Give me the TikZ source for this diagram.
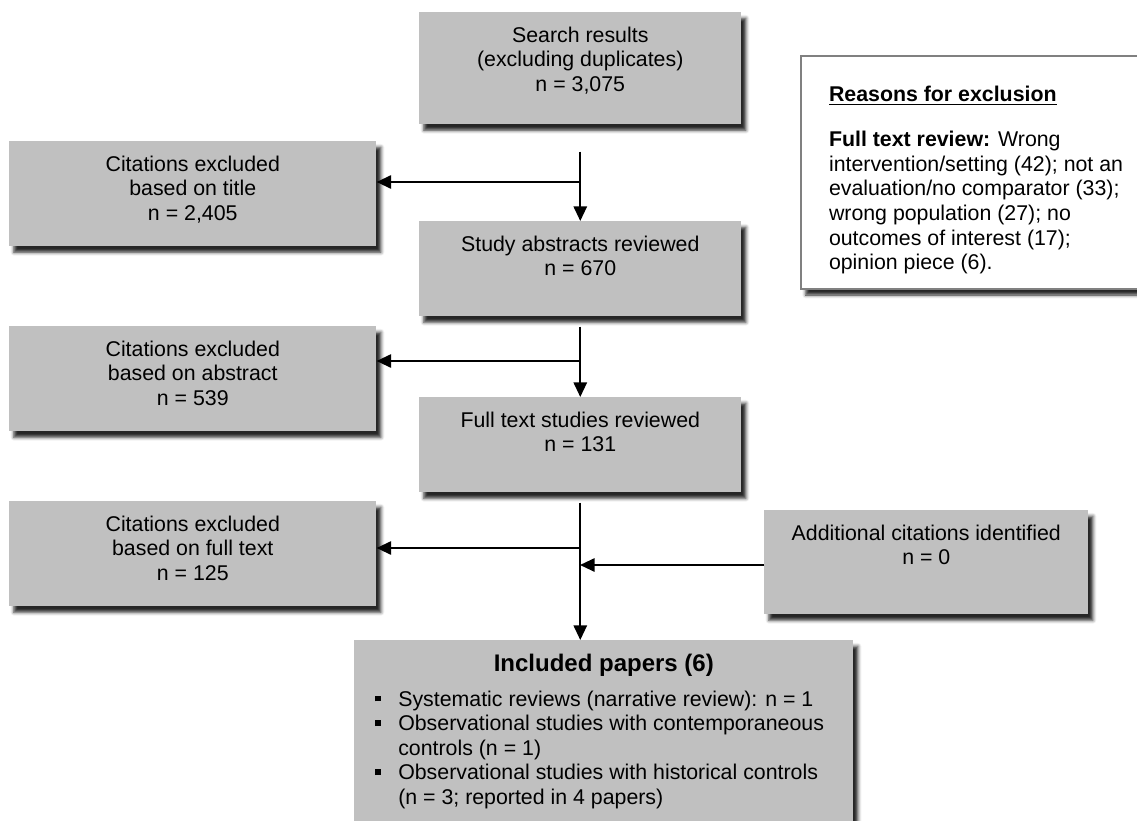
\documentclass[tikz,border=0pt]{standalone}
\usepackage{fontspec}
\setmainfont{Liberation Sans}
\usetikzlibrary{arrows.meta,shadows.blur}

\definecolor{boxgray}{RGB}{192,192,192}
\definecolor{framegray}{RGB}{128,128,128}

% box text, pinned to the top of the box
\newcommand{\boxlines}[3]{\parbox[c][#2][t]{#1}{\centering\rule{0pt}{22.5pt}#3}}
\newcommand{\sqbul}{\rule[3.6pt]{4.3pt}{4.3pt}}

\begin{document}
\begin{tikzpicture}[
x=0.75pt, y=-0.75pt,
box/.style={
fill=boxgray,
inner sep=0pt,
anchor=north west,
blur shadow={shadow xshift=3.5pt, shadow yshift=-4.5pt, shadow blur radius=2.5pt, shadow opacity=85},
font=\fontsize{16}{18.4}\selectfont
},
arrow/.style={line width=1.5pt, -{Triangle[length=11pt,width=10pt]}}
]

\useasboundingbox (0,0) rectangle (1137,820);

% main column
\node[box] (search) at (419,12)
{\boxlines{241.5pt}{84pt}{Search results\\(excluding duplicates)\\n = 3,075}};

\node[box] (abs) at (419,221)
{\boxlines{241.5pt}{71.25pt}{Study abstracts reviewed\\n = 670}};

\node[box] (full) at (419,397)
{\boxlines{241.5pt}{71.25pt}{Full text studies reviewed\\n = 131}};

\node[box] (incl) at (354,640)
{\parbox[c][138.75pt][t]{374.25pt}{\centering\rule{0pt}{23.7pt}{\fontsize{18}{20}\selectfont\bfseries Included papers (6)}\par
\vspace{7.4pt}\raggedright\hspace*{15.4pt}\begin{tabular}[t]{@{}p{17.6pt}@{}l@{}}
\sqbul & Systematic reviews (narrative review): n = 1\\
\sqbul & Observational studies with contemporaneous\\
 & controls (n = 1)\\
\sqbul & Observational studies with historical controls\\
 & (n = 3; reported in 4 papers)
\end{tabular}}};

% excluded
\node[box] (titlex) at (9,141)
{\boxlines{275.25pt}{78.75pt}{Citations excluded\\based on title\\n = 2,405}};

\node[box] (absx) at (9,326)
{\boxlines{275.25pt}{78.75pt}{Citations excluded\\based on abstract\\n = 539}};

\node[box] (fullx) at (9,501)
{\boxlines{275.25pt}{78.75pt}{Citations excluded\\based on full text\\n = 125}};

\node[box] (add) at (764,510)
{\boxlines{243pt}{78pt}{Additional citations identified\\n = 0}};

% reasons
\node[box, fill=white, draw=framegray, line width=1.5pt] (reasons) at (800,55)
{\parbox[c][174.75pt][t]{258.75pt}{\raggedright\leftskip=21pt
\rule{0pt}{34.3pt}\textbf{\underline{Reasons for exclusion}}\par
\vspace{15.5pt}\textbf{Full text review:} Wrong\\
intervention/setting (42); not an\\
evaluation/no comparator (33);\\
wrong population (27); no\\
outcomes of interest (17);\\
opinion piece (6).\par}};

\coordinate (j1) at (580,182);
\coordinate (j2) at (580,361);
\coordinate (j3) at (580,548);
\coordinate (j4) at (580,565);

\draw[arrow, shorten <=20.25pt] (search) -- (abs);
\draw[arrow, shorten <=7.5pt] (abs) -- (full);
\draw[arrow, shorten <=7.5pt] (full.south) -- (full.south |- incl.north);

\draw[arrow] (j1) -- (j1 -| titlex.east);
\draw[arrow] (j2) -- (j2 -| absx.east);
\draw[arrow] (j3) -- (j3 -| fullx.east);
\draw[arrow] (j4 -| add.west) -- (j4);

\end{tikzpicture}
\end{document}
